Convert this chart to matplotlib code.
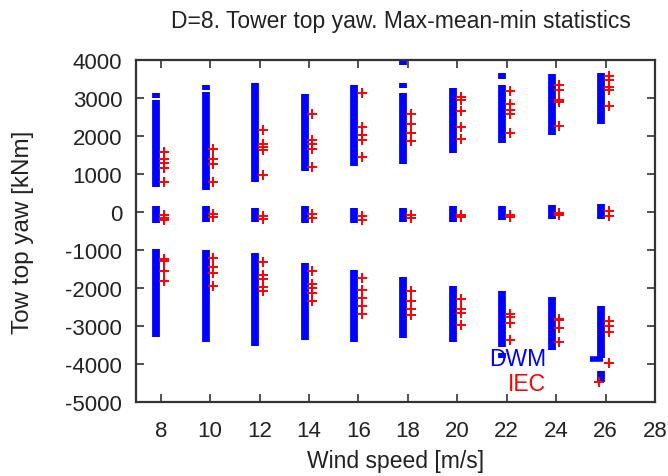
import matplotlib
matplotlib.use('Agg')
import matplotlib.pyplot as plt

plt.rcParams['font.family'] = ['Liberation Sans', 'DejaVu Sans']
plt.rcParams['axes.unicode_minus'] = False

# DWM: vertical runs of points, given as (wind speed, low, high)
dwm_ws = [8, 8, 8, 10, 10, 10, 12, 12, 14, 14, 16, 16,
          18, 18, 18, 18, 20, 20, 22, 22, 22, 22, 24, 24, 26, 26, 26]
dwm_lo = [670, 3000, -300, 580, 3200, -250, 785, -250, 1090, -300, 1210, -300,
          1270, 3270, 3880, -250, 1545, -250, 1810, 3500, -210, -3850, 2025, -180, 2310, -180, -4470]
dwm_hi = [2950, 3140, 150, 3150, 3350, 150, 3400, 100, 3105, 150, 3350, 100,
          3140, 3400, 4000, 100, 3260, 150, 3350, 3670, 150, -3700, 3620, 180, 3665, 220, -4180]

# DWM minimum runs
dwm_min_ws = [8, 10, 12, 14, 16, 18, 20, 22, 24, 26]
dwm_min_lo = [-3300, -3430, -3525, -3370, -3410, -3305, -3430, -3540, -3630, -3845]
dwm_min_hi = [-960, -1000, -1070, -1345, -1520, -1720, -1935, -2065, -2240, -2460]

# IEC: single points
iec_ws = [8, 8, 8, 8, 8, 10, 10, 10, 10, 12, 12, 12, 12, 12, 14, 14, 14, 14, 14,
          16, 16, 16, 16, 16, 18, 18, 18, 18, 20, 20, 20, 20, 20, 22, 22, 22, 22, 22,
          24, 24, 24, 24, 24, 26, 26, 26, 26, 26]
iec_val = [1570, 1400, 1280, 1150, 800, 1655, 1395, 1265, 800, 2155, 1780, 1700, 1630, 970,
           2575, 1885, 1780, 1650, 1180, 3130, 2240, 2025, 1895, 1440, 2590, 2310, 2085, 1875,
           3025, 2940, 2650, 2240, 1910, 3175, 2835, 2680, 2590, 2085,
           3350, 3200, 2940, 2895, 2260, 3575, 3465, 3290, 3200, 2790]

iec_mid_ws = [8, 8, 8, 10, 10, 12, 12, 14, 14, 16, 16, 18, 18, 20, 20, 22, 22, 24, 24, 26, 26]
iec_mid_val = [-80, -150, -200, -60, -140, -100, -180, -60, -150, -100, -220, -90, -160,
               -70, -140, -70, -130, -20, -90, 30, -100]

iec_min_ws = [8, 8, 8, 8, 10, 10, 10, 10, 12, 12, 12, 12, 12, 14, 14, 14, 14, 14,
              16, 16, 16, 16, 16, 18, 18, 18, 18, 20, 20, 20, 20, 22, 22, 22, 22,
              24, 24, 24, 24, 26, 26, 26, 26, 25.6]
iec_min_val = [-1230, -1280, -1550, -1805, -1200, -1445, -1615, -1940, -1310, -1660, -1765, -1980, -2065,
               -1545, -1895, -2005, -2130, -2330, -1745, -2040, -2260, -2460, -2675,
               -2065, -2330, -2545, -2700, -2285, -2545, -2650, -2960,
               -2675, -2760, -2910, -3370, -2805, -2850, -3045, -3430,
               -2875, -2995, -3150, -3975, -4470]

blue_shift = -0.18
red_shift = 0.13

fig = plt.figure(figsize=(6.68, 4.77), dpi=100)
ax = fig.add_axes([0.2036, 0.155, 0.777, 0.717])

xs = [w + blue_shift for w in dwm_ws]
ax.vlines(xs, dwm_lo, dwm_hi, colors='#0000ff', linewidth=5.6)
xs = [w + blue_shift for w in dwm_min_ws]
ax.vlines(xs, dwm_min_lo, dwm_min_hi, colors='#0000ff', linewidth=5.6)
# short horizontal run near the bottom at 26 m/s
ax.hlines([-3870], [25.35], [25.9], colors='#0000ff', linewidth=4)

for ws_list, vals in [(iec_ws, iec_val), (iec_mid_ws, iec_mid_val), (iec_min_ws, iec_min_val)]:
    xs = [w + red_shift for w in ws_list]
    ax.plot(xs, vals, '+', color='#ff0000', markersize=7, markeredgewidth=1.4, linestyle='none')

ax.set_xlim(7, 28)
ax.set_ylim(-5000, 4000)
ax.set_xticks(range(8, 29, 2))
ax.set_yticks(range(-5000, 4001, 1000))

text_col = '#222222'
ax.tick_params(direction='in', length=6, width=1.2, top=True, right=True,
               labelsize=16, colors='#333333', labelcolor=text_col)
ax.tick_params(axis='x', pad=13)
ax.tick_params(axis='y', pad=10)
for s in ax.spines.values():
    s.set_linewidth(1.6)
    s.set_color('#333333')

fig.text(0.6, 0.954, 'D=8. Tower top yaw. Max-mean-min statistics', fontsize=16.5,
         color=text_col, ha='center', va='center')
ax.set_xlabel('Wind speed [m/s]', fontsize=16.5, color=text_col, va='center')
ax.xaxis.set_label_coords(0.5, -0.17)
ax.set_ylabel('Tow top yaw [kNm]', fontsize=17.5, color=text_col, va='center')
ax.yaxis.set_label_coords(-0.218, 0.5)

ax.text(0.79, 0.126, 'DWM', transform=ax.transAxes, ha='right', va='center',
        fontsize=16.5, color='#0000ff')
ax.text(0.79, 0.053, 'IEC', transform=ax.transAxes, ha='right', va='center',
        fontsize=16.5, color='#ff0000')

fig.savefig('out.png', dpi=100)
